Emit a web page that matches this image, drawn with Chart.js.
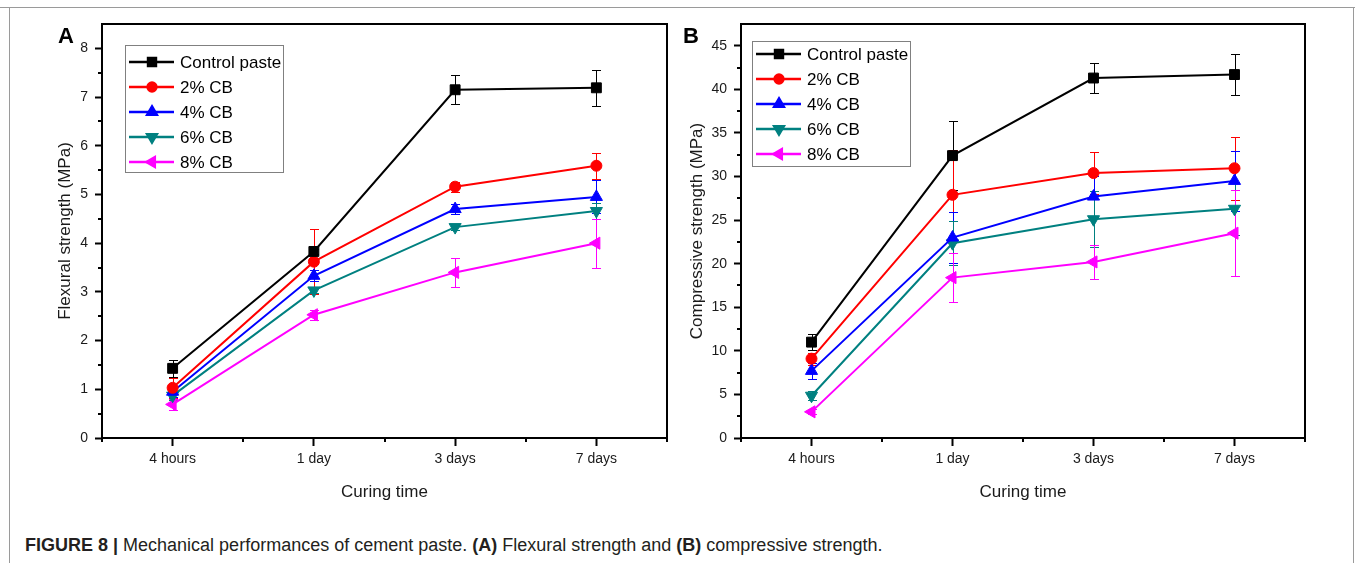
<!DOCTYPE html>
<html>
<head>
<meta charset="utf-8">
<title>Mechanical performances of cement paste</title>
<script src="https://cdn.jsdelivr.net/npm/chart.js@4.4.1/dist/chart.umd.min.js"></script>
<style>
  body { margin: 0; background: #fff; width: 1355px; height: 563px; overflow: hidden; position: relative;
         font-family: 'Liberation Sans', Arial, sans-serif; }
  .topline { position: absolute; left: 0; top: 7px; width: 1355px; height: 1px; background: #9a9a9a; }
  .frame { position: absolute; left: 9px; top: 7px; width: 1343px; height: 600px;
           border-left: 1px solid #9a9a9a; border-right: 1px solid #9a9a9a; }
  canvas { position: absolute; top: 0; }
  #flexural { left: 0; }
  #compressive { left: 640px; }
  .caption { position: absolute; left: 25px; top: 536px; font-size: 18px; line-height: 18px;
             color: #231f20; white-space: nowrap; }
</style>
</head>
<body>
<div class="topline"></div>
<div class="frame"></div>
<canvas id="flexural" width="680" height="520"></canvas>
<canvas id="compressive" width="680" height="520"></canvas>
<div class="caption"><b>FIGURE 8 |</b> Mechanical performances of cement paste. <b>(A)</b> Flexural strength and <b>(B)</b> compressive strength.</div>

<script>
const categories = ['4 hours', '1 day', '3 days', '7 days'];
const seriesNames = ['Control paste', '2% CB', '4% CB', '6% CB', '8% CB'];

// (A) flexural strength, MPa, with error bars
const flexControl = [1.43, 3.83, 7.15, 7.19];
const flex2 = [1.03, 3.62, 5.16, 5.59];
const flex4 = [0.95, 3.33, 4.70, 4.95];
const flex6 = [0.87, 3.03, 4.33, 4.66];
const flex8 = [0.69, 2.53, 3.40, 4.00];
const flexControlErr = [0.17, 0.05, 0.30, 0.37];
const flex2Err = [0.20, 0.67, 0.10, 0.27];
const flex4Err = [0.10, 0.11, 0.10, 0.34];
const flex6Err = [0.08, 0.06, 0.05, 0.16];
const flex8Err = [0.12, 0.10, 0.30, 0.50];

// (B) compressive strength, MPa, with error bars
const compControl = [11.0, 32.4, 41.3, 41.7];
const comp2 = [9.1, 27.9, 30.4, 30.95];
const comp4 = [7.7, 23.0, 27.7, 29.5];
const comp6 = [4.85, 22.35, 25.1, 26.3];
const comp8 = [3.0, 18.4, 20.2, 23.5];
const compControlErr = [0.9, 4.0, 1.7, 2.35];
const comp2Err = [0.7, 5.1, 2.4, 3.6];
const comp4Err = [0.95, 2.9, 2.4, 3.4];
const comp6Err = [0.5, 2.5, 3.2, 3.0];
const comp8Err = [0.3, 2.8, 2.0, 4.9];

const colors = ['#000000', '#ff0000', '#0000ff', '#008080', '#ff00ff'];
const markers = [
  { style: 'rect', rotation: 0, radius: 7 },
  { style: 'circle', rotation: 0, radius: 5.5 },
  { style: 'triangle', rotation: 0, radius: 7 },
  { style: 'triangle', rotation: 180, radius: 7 },
  { style: 'triangle', rotation: 270, radius: 7 }
];

Chart.defaults.font.family = "'Liberation Sans', Arial, sans-serif";
Chart.defaults.color = '#1a1a1a';

// vertical error bars, drawn under the lines and markers
const errorBars = {
  id: 'errorBars',
  beforeDatasetsDraw(chart) {
    const ctx = chart.ctx;
    const y = chart.scales.y;
    chart.data.datasets.forEach((ds, i) => {
      const meta = chart.getDatasetMeta(i);
      ctx.save();
      ctx.strokeStyle = ds.borderColor;
      ctx.lineWidth = 1;
      meta.data.forEach((pt, j) => {
        const px = Math.round(pt.x) + 0.5;
        const top = Math.round(y.getPixelForValue(ds.data[j] + ds.errors[j])) + 0.5;
        const bot = Math.round(y.getPixelForValue(ds.data[j] - ds.errors[j])) + 0.5;
        ctx.beginPath();
        ctx.moveTo(px, top); ctx.lineTo(px, bot);
        ctx.moveTo(px - 4.5, top); ctx.lineTo(px + 4.5, top);
        ctx.moveTo(px - 4.5, bot); ctx.lineTo(px + 4.5, bot);
        ctx.stroke();
      });
      ctx.restore();
    });
  }
};

// box around the plot, short minor ticks, panel letter and the inner legend
const decorations = {
  id: 'decorations',
  afterDraw(chart, args, opts) {
    const { ctx, chartArea: a, scales: { x, y } } = chart;
    ctx.save();
    ctx.strokeStyle = '#000';
    ctx.lineWidth = 2;
    ctx.strokeRect(a.left, a.top, a.right - a.left, a.bottom - a.top);

    ctx.beginPath();
    for (let v = opts.yMinor; v < y.max; v += opts.yMinor) {
      if (Math.abs(v / opts.yMajor - Math.round(v / opts.yMajor)) < 1e-6) continue;
      const py = Math.round(y.getPixelForValue(v));
      ctx.moveTo(a.left - 4, py); ctx.lineTo(a.left, py);
    }
    for (let i = 0; i <= categories.length; i++) {
      const px = Math.round(x.getPixelForValue(i - 0.5));
      ctx.moveTo(px, a.bottom); ctx.lineTo(px, a.bottom + 4);
    }
    ctx.stroke();

    ctx.fillStyle = '#000';
    ctx.font = "bold 22px 'Liberation Sans', Arial, sans-serif";
    ctx.textBaseline = 'alphabetic';
    ctx.fillText(opts.letter, opts.letterX, opts.letterY);

    // legend
    const lg = opts.legend;
    const bx = a.left + lg.x, by = a.top + lg.y;
    ctx.lineWidth = 1;
    ctx.strokeStyle = '#808080';
    ctx.fillStyle = '#fff';
    ctx.fillRect(bx, by, lg.w, lg.h);
    ctx.strokeRect(bx + 0.5, by + 0.5, lg.w, lg.h);
    ctx.font = "17px 'Liberation Sans', Arial, sans-serif";
    ctx.textBaseline = 'middle';
    chart.data.datasets.forEach((ds, i) => {
      const ry = by + lg.rowTop + i * lg.rowGap;
      ctx.strokeStyle = ds.borderColor;
      ctx.fillStyle = ds.borderColor;
      ctx.lineWidth = 2.5;
      ctx.beginPath();
      ctx.moveTo(bx + 4, ry); ctx.lineTo(bx + 49, ry);
      ctx.stroke();
      Chart.helpers.drawPoint(ctx, {
        pointStyle: ds.pointStyle, rotation: ds.pointRotation,
        radius: ds.pointRadius * 0.8, borderWidth: 1
      }, bx + 27, ry);
      ctx.fillStyle = '#000';
      ctx.fillText(ds.label, bx + 55, ry + 1);
    });
    ctx.restore();
  }
};

function makeChart(id, values, errors, o) {
  const datasets = values.map((vals, i) => ({
    label: seriesNames[i],
    data: vals,
    errors: errors[i],
    borderColor: colors[i],
    backgroundColor: colors[i],
    borderWidth: 2,
    pointStyle: markers[i].style,
    pointRotation: markers[i].rotation,
    pointRadius: markers[i].radius,
    pointBorderWidth: 1,
    tension: 0
  }));

  return new Chart(document.getElementById(id), {
    type: 'line',
    data: { labels: categories, datasets },
    options: {
      responsive: false,
      animation: false,
      devicePixelRatio: 1,
      layout: { autoPadding: false, padding: { left: 0, right: o.padRight, top: 24, bottom: 0 } },
      plugins: {
        legend: { display: false },
        tooltip: { enabled: false },
        decorations: {
          yMajor: o.yStep, yMinor: o.yStep / 2,
          letter: o.letter, letterX: o.letterX, letterY: 43,
          legend: o.legend
        }
      },
      scales: {
        x: {
          type: 'category',
          offset: true,
          grid: { drawOnChartArea: false, offset: false, tickLength: 8, tickWidth: 2, tickColor: '#000' },
          border: { color: '#000', width: 2 },
          ticks: { color: '#1a1a1a', font: { size: 14 }, padding: 5, maxRotation: 0 },
          title: { display: true, text: 'Curing time', color: '#1a1a1a', font: { size: 17 },
                   padding: { top: 0, bottom: 17 } },
          afterFit: s => { s.height = 82; }
        },
        y: {
          min: 0,
          max: o.yMax,
          afterBuildTicks: s => {
            s.ticks = s.ticks.filter(t => Math.abs(t.value / o.yStep - Math.round(t.value / o.yStep)) < 1e-6);
          },
          grid: { drawOnChartArea: false, tickLength: 7, tickWidth: 2, tickColor: '#000' },
          border: { color: '#000', width: 2 },
          ticks: { stepSize: o.yStep, color: '#1a1a1a', font: { size: 14 }, padding: 7 },
          title: { display: true, text: o.yTitle, color: '#1a1a1a', font: { size: 17 },
                   padding: { top: o.yTitlePad, bottom: 0 } },
          afterFit: s => { s.width = o.yWidth; }
        }
      }
    },
    plugins: [errorBars, decorations]
  });
}

makeChart('flexural',
  [flexControl, flex2, flex4, flex6, flex8],
  [flexControlErr, flex2Err, flex4Err, flex6Err, flex8Err],
  { yMax: 8.5, yStep: 1, yTitle: 'Flexural strength (MPa)', yTitlePad: 55, yWidth: 102, padRight: 13,
    letter: 'A', letterX: 58, legend: { x: 23, y: 21, w: 158, h: 127, rowTop: 17, rowGap: 25 } });

makeChart('compressive',
  [compControl, comp2, comp4, comp6, comp8],
  [compControlErr, comp2Err, comp4Err, comp6Err, comp8Err],
  { yMax: 47.5, yStep: 5, yTitle: 'Compressive strength (MPa)', yTitlePad: 47, yWidth: 101, padRight: 15,
    letter: 'B', letterX: 43, legend: { x: 11, y: 17, w: 158, h: 125, rowTop: 13, rowGap: 25 } });
</script>
</body>
</html>
